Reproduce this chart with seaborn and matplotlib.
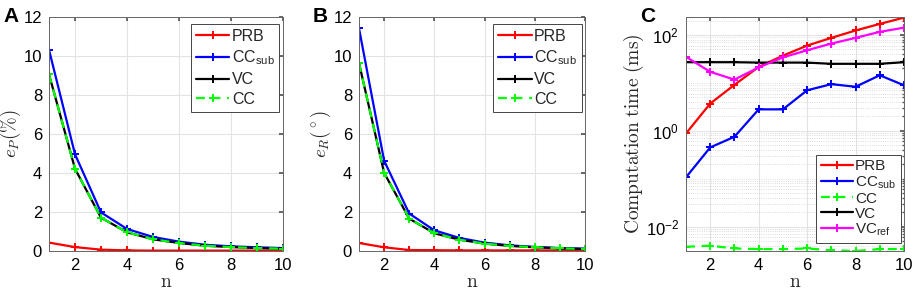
import numpy as np
import pandas as pd
import matplotlib
matplotlib.use("Agg")
import matplotlib.pyplot as plt
import seaborn as sns
from matplotlib.ticker import FixedLocator, LogLocator, NullFormatter

sns.set_theme(style="white")
plt.rcParams['font.family'] = ['Liberation Sans', 'DejaVu Sans']

n = [1, 2, 3, 4, 5, 6, 7, 8, 9, 10]

# Panel A: e_P (%)
epP_PRB = [0.43, 0.20, 0.07, 0.03, 0.02, 0.02, 0.02, 0.02, 0.02, 0.02]
epP_CCsub = [10.32, 4.96, 1.98, 1.13, 0.72, 0.48, 0.32, 0.24, 0.19, 0.15]
epP_VC = [9.06, 4.22, 1.71, 0.96, 0.60, 0.41, 0.27, 0.20, 0.15, 0.12]
epP_CC = [9.06, 4.22, 1.71, 0.96, 0.60, 0.41, 0.27, 0.20, 0.15, 0.12]

# Panel B: e_R (deg)
eR_PRB = [0.41, 0.19, 0.05, 0.04, 0.03, 0.03, 0.03, 0.03, 0.03, 0.03]
eR_CCsub = [11.42, 4.63, 1.92, 1.06, 0.67, 0.43, 0.29, 0.21, 0.15, 0.12]
eR_VC = [9.64, 4.01, 1.66, 0.91, 0.58, 0.38, 0.26, 0.19, 0.14, 0.10]
eR_CC = [9.64, 4.01, 1.66, 0.91, 0.58, 0.38, 0.26, 0.19, 0.14, 0.10]

# Panel C: computation time (ms)
t_PRB = [0.88, 3.7, 9.1, 21.5, 37, 60, 87, 124, 170, 230]
t_CCsub = [0.107, 0.45, 0.75, 2.8, 2.8, 7.0, 9.4, 8.3, 14.4, 8.9]
t_CC = [0.0038, 0.0040, 0.0035, 0.0034, 0.0034, 0.0035, 0.0032, 0.0031, 0.0034, 0.0034]
t_VC = [27, 27, 27, 26.5, 26.5, 26.5, 25, 25, 25, 27]
t_VCref = [35, 17, 11.7, 21, 34, 48, 66, 87, 116, 142]

RED, BLUE, BLACK, GREEN, MAG = '#ff0000', '#0000ff', '#000000', '#00ff00', '#ff00ff'

fig = plt.figure(figsize=(9.13, 2.94), dpi=100)
W, H = 913, 294
def add_ax(x0, x1, y0, y1):
    return fig.add_axes([x0 / W, 1 - y1 / H, (x1 - x0) / W, (y1 - y0) / H])

axA = add_ax(49, 283, 17, 251)
axB = add_ax(359, 585, 17, 251)
axC = add_ax(686, 904, 17, 251)

def draw(ax, series):
    for lab, vals, col, ls in series:
        df = pd.DataFrame({'n': n, 'v': vals})
        sns.lineplot(data=df, x='n', y='v', ax=ax, color=col,
                     marker='+', markersize=6, markeredgewidth=1.4,
                     markeredgecolor=col, linewidth=1.6, label=lab)
    for ln, (lab, vals, col, ls) in zip(ax.get_lines(), series):
        ln.set_linestyle(ls)
        if ls == '--':
            ln.set_dashes([4, 3])

def style(ax):
    ax.set_xlim(1, 10)
    ax.set_xticks([2, 4, 6, 8, 10])
    ax.tick_params(axis='both', which='both', direction='in', top=True, right=True,
                   colors='#555555', length=3, labelsize=12, pad=5)
    for s in ax.spines.values():
        s.set_color('#666666')
        s.set_linewidth(0.7)
    ax.grid(True, which='major', color='#e3e3e3', linewidth=0.8)
    ax.set_axisbelow(True)
    ax.set_xlabel(r'$\mathrm{n}$', fontsize=14, math_fontfamily='cm', labelpad=1)

def finish_ticks(ax):
    for t in ax.get_xticklabels() + ax.get_yticklabels():
        t.set_color('black')

def legend(ax, labels, loc, bbox, spacing, fs):
    leg = ax.legend(loc=loc, bbox_to_anchor=bbox, fontsize=fs, frameon=True,
                    fancybox=False, framealpha=1, edgecolor='#444444',
                    handlelength=2.1, handletextpad=0.15, labelspacing=spacing,
                    borderpad=0.3, borderaxespad=0.0)
    leg.get_frame().set_linewidth(0.7)
    for t, lab in zip(leg.get_texts(), labels):
        t.set_text(lab)

# Panel A
draw(axA, [('PRB', epP_PRB, RED, '-'), ('CCsub', epP_CCsub, BLUE, '-'),
           ('VC', epP_VC, BLACK, '-'), ('CC', epP_CC, GREEN, '--')])
style(axA)
axA.set_ylim(0, 12)
axA.set_yticks([0, 2, 4, 6, 8, 10, 12])
axA.set_ylabel(r'$e_P(\%)$', fontsize=13.5, math_fontfamily='cm', labelpad=0)
legend(axA, ['PRB', r'CC$_\mathregular{sub}$', 'VC', 'CC'], 'upper right', (0.985, 0.97), 0.3, 11.5)
finish_ticks(axA)

# Panel B
draw(axB, [('PRB', eR_PRB, RED, '-'), ('CCsub', eR_CCsub, BLUE, '-'),
           ('VC', eR_VC, BLACK, '-'), ('CC', eR_CC, GREEN, '--')])
style(axB)
axB.set_ylim(0, 12)
axB.set_yticks([0, 2, 4, 6, 8, 10, 12])
axB.set_ylabel(r'$e_R(^\circ)$', fontsize=13.5, math_fontfamily='cm', labelpad=0)
legend(axB, ['PRB', r'CC$_\mathregular{sub}$', 'VC', 'CC'], 'upper right', (0.985, 0.97), 0.3, 11.5)
finish_ticks(axB)

# Panel C
draw(axC, [('PRB', t_PRB, RED, '-'), ('CCsub', t_CCsub, BLUE, '-'),
           ('CC', t_CC, GREEN, '--'), ('VC', t_VC, BLACK, '-'),
           ('VCref', t_VCref, MAG, '-')])
axC.set_yscale('log')
style(axC)
axC.set_ylim(0.0031, 237)
axC.yaxis.set_major_locator(FixedLocator([1e-2, 1e0, 1e2]))
axC.yaxis.set_minor_locator(LogLocator(base=10, subs=np.arange(1, 10), numticks=30))
axC.yaxis.set_minor_formatter(NullFormatter())
axC.grid(True, which='minor', axis='y', color='#d0d0d0', linewidth=0.6, linestyle=':')
axC.tick_params(axis='y', which='minor', length=1.5)
axC.set_ylabel(r'$\mathrm{Computation\ time\ (ms)}$', fontsize=14, math_fontfamily='cm', labelpad=0)
legend(axC, ['PRB', r'CC$_\mathregular{sub}$', 'CC', 'VC', r'VC$_\mathregular{ref}$'],
       'lower right', (0.985, 0.035), 0.06, 11)
finish_ticks(axC)

for lab, x in (('A', 3), ('B', 313), ('C', 640)):
    fig.text(x / W, 1 - 22 / H, lab, fontsize=15, fontweight='bold', color='black')

fig.savefig('out.png', dpi=100)
